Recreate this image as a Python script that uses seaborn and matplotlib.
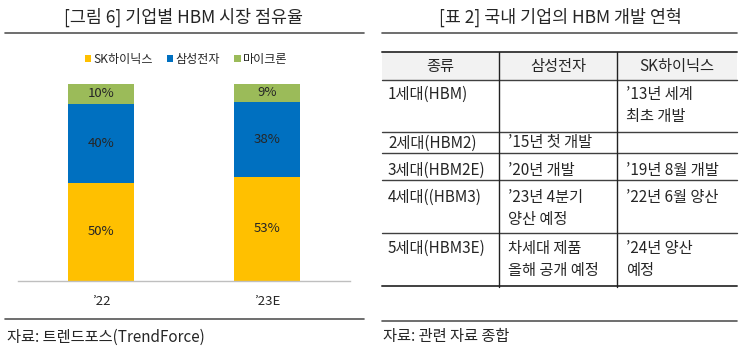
import matplotlib
matplotlib.use("Agg")
import matplotlib.pyplot as plt
from matplotlib.lines import Line2D
from matplotlib.patches import Patch, Rectangle
import seaborn as sns
import pandas as pd
import numpy as np

# ---------------- data ----------------
years = ["’22", "’23E"]
sk_hynix = [50, 53]
samsung = [40, 38]
micron = [10, 9]
series_names = ["SK하이닉스", "삼성전자", "마이크론"]
series_colors = ["#FFC000", "#0070C0", "#9BBB59"]

chart_title = "[그림 6] 기업별 HBM 시장 점유율"
chart_source = "자료: 트렌드포스(TrendForce)"

table_title = "[표 2] 국내 기업의 HBM 개발 연혁"
table_source = "자료: 관련 자료 종합"
table_header = ["종류", "삼성전자", "SK하이닉스"]
table_col1 = ["1세대(HBM)", "2세대(HBM2)", "3세대(HBM2E)", "4세대((HBM3)", "5세대(HBM3E)"]
table_col2 = ["", "’15년 첫 개발", "’20년 개발", "’23년 4분기\n양산 예정", "차세대 제품\n올해 공개 예정"]
table_col3 = ["’13년 세계\n최초 개발", "", "’19년 8월 개발", "’22년 6월 양산", "’24년 양산\n예정"]

# ---------------- style ----------------
sns.set_theme(style="white")
plt.rcParams["font.family"] = ["Noto Sans CJK KR", "DejaVu Sans"]

W, H = 745, 351
fig = plt.figure(figsize=(W / 100, H / 100), dpi=100)
fig.patch.set_facecolor("white")

def fx(x):
    return x / W

def fy(y):
    return 1 - y / H

TXT = "#262626"
LINE = "#404040"
TITLE_FS = 12.5
BODY_FS = 11
SRC_FS = 11

# ---------------- left chart ----------------
ax = fig.add_axes([fx(18), fy(281), fx(350) - fx(18), fy(84) - fy(281)])
df = pd.DataFrame({"year": years, "sk": sk_hynix, "ss": samsung, "mu": micron})
df["top2"] = df["sk"] + df["ss"]
df["top3"] = df["top2"] + df["mu"]

sns.barplot(data=df, x="year", y="top3", color=series_colors[2], width=0.4,
            saturation=1, ax=ax, linewidth=0)
sns.barplot(data=df, x="year", y="top2", color=series_colors[1], width=0.4,
            saturation=1, ax=ax, linewidth=0)
sns.barplot(data=df, x="year", y="sk", color=series_colors[0], width=0.4,
            saturation=1, ax=ax, linewidth=0)

for i in range(len(years)):
    bottoms = [0, df["sk"][i], df["top2"][i]]
    vals = [df["sk"][i], df["ss"][i], df["mu"][i]]
    for b, v in zip(bottoms, vals):
        ax.text(i, b + v / 2, f"{v}%", ha="center", va="center",
                fontsize=9.5, color=TXT)

ax.set_xlim(-0.5, 1.5)
ax.set_ylim(0, 100)
ax.set_xlabel("")
ax.set_ylabel("")
ax.set_yticks([])
for s in ["top", "left", "right"]:
    ax.spines[s].set_visible(False)
ax.spines["bottom"].set_color("#BFBFBF")
ax.spines["bottom"].set_linewidth(1)
ax.set_xticks([0, 1])
ax.set_xticklabels(years, fontsize=9.5, color=TXT)
ax.tick_params(axis="x", which="major", length=0, pad=10)
ax.set_xticks([-0.5, 0.5, 1.5], minor=True)
ax.tick_params(axis="x", which="minor", length=5, color="#BFBFBF", width=1, direction="out")
ax.patch.set_alpha(0)

handles = [Patch(facecolor=c, edgecolor="none") for c in series_colors]
fig.legend(handles, series_names, loc="center", bbox_to_anchor=(fx(186), fy(59)),
           ncol=3, frameon=False, fontsize=8.7, handlelength=0.5, handleheight=0.5,
           handletextpad=0.2, columnspacing=1.2, labelcolor=TXT)

fig.text(fx(183), fy(17), chart_title, ha="center", va="center", fontsize=TITLE_FS, color=TXT)
fig.add_artist(Line2D([fx(5), fx(364)], [fy(33), fy(33)], color="#555555", lw=1.2))
fig.add_artist(Line2D([fx(5), fx(364)], [fy(319), fy(319)], color="#555555", lw=1.2))
fig.text(fx(7), fy(337), chart_source, ha="left", va="center", fontsize=SRC_FS, color=TXT)

# ---------------- right table ----------------
fig.text(fx(560), fy(17), table_title, ha="center", va="center", fontsize=TITLE_FS, color=TXT)
fig.add_artist(Line2D([fx(382), fx(737)], [fy(33), fy(33)], color="#555555", lw=1.2))
fig.add_artist(Line2D([fx(382), fx(737)], [fy(321), fy(321)], color="#555555", lw=1.2))
fig.text(fx(383), fy(337), table_source, ha="left", va="center", fontsize=SRC_FS, color=TXT)

tx0, tx1 = 382, 737
col_x = [382, 499, 617, 737]
# header background
fig.add_artist(Rectangle((fx(tx0), fy(80)), fx(tx1) - fx(tx0), fy(52) - fy(80),
                         facecolor="#F2F2F2", edgecolor="none"))
row_lines = [52, 80, 132, 153, 180, 233, 286]
for k, y in enumerate(row_lines):
    lw = 1.4 if k in (0, len(row_lines) - 1) else 1.0
    fig.add_artist(Line2D([fx(tx0), fx(tx1)], [fy(y), fy(y)], color=LINE, lw=lw))
for x in col_x[1:3]:
    fig.add_artist(Line2D([fx(x), fx(x)], [fy(52), fy(287)], color="#222222", lw=1.0))

centers = [(col_x[i] + col_x[i + 1]) / 2 for i in range(3)]
for c, h in zip(centers, table_header):
    fig.text(fx(c), fy(66), h, ha="center", va="center", fontsize=BODY_FS, color=TXT)

row_first_y = [94, 143, 170, 197, 248]
line_gap = 23
text_x = [388, 508, 626]
for r in range(len(table_col1)):
    for cx, col in zip(text_x, [table_col1, table_col2, table_col3]):
        for li, part in enumerate(col[r].split("\n")):
            if part:
                fig.text(fx(cx), fy(row_first_y[r] + li * line_gap), part,
                         ha="left", va="center", fontsize=BODY_FS, color=TXT)

fig.savefig("out.png", dpi=100, facecolor="white")
